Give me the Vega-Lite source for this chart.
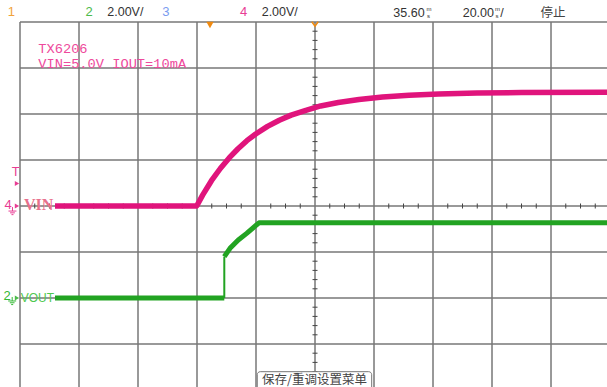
{
  "$schema": "https://vega.github.io/schema/vega-lite/v6.json",
  "width": 587,
  "height": 365,
  "autosize": {"type": "none"},
  "padding": {"left": 20, "top": 22, "right": 0, "bottom": 0},
  "background": "white",
  "config": {"view": {"stroke": null}, "axis": {"disable": true}, "legend": {"disable": true}},
  "resolve": {"scale": {"y": "independent"}},
  "datasets": {
    "vgrid": [{"t": -64.4}, {"t": -44.4}, {"t": -24.4}, {"t": -4.4}, {"t": 15.6}, {"t": 35.6}, {"t": 55.6}, {"t": 75.6}, {"t": 95.6}, {"t": 115.6}],
    "hgrid": [{"d": 1}, {"d": 2}, {"d": 3}, {"d": 4}, {"d": 5}, {"d": 6}, {"d": 7}, {"d": 8}],
    "hticks": [{"t": -59.4}, {"t": -54.4}, {"t": -49.4}, {"t": -39.4}, {"t": -34.4}, {"t": -29.4}, {"t": -19.4}, {"t": -14.4}, {"t": -9.4}, {"t": 0.6}, {"t": 5.6}, {"t": 10.6}, {"t": 20.6}, {"t": 25.6}, {"t": 30.6}, {"t": 40.6}, {"t": 45.6}, {"t": 50.6}, {"t": 60.6}, {"t": 65.6}, {"t": 70.6}, {"t": 80.6}, {"t": 85.6}, {"t": 90.6}, {"t": 100.6}, {"t": 105.6}, {"t": 110.6}, {"t": 120.6}, {"t": 125.6}, {"t": 130.6}],
    "vticks": [{"d": 0.2}, {"d": 0.4}, {"d": 0.6}, {"d": 0.8}, {"d": 1.2}, {"d": 1.4}, {"d": 1.6}, {"d": 1.8}, {"d": 2.2}, {"d": 2.4}, {"d": 2.6}, {"d": 2.8}, {"d": 3.2}, {"d": 3.4}, {"d": 3.6}, {"d": 3.8}, {"d": 4.2}, {"d": 4.4}, {"d": 4.6}, {"d": 4.8}, {"d": 5.2}, {"d": 5.4}, {"d": 5.6}, {"d": 5.8}, {"d": 6.2}, {"d": 6.4}, {"d": 6.6}, {"d": 6.8}, {"d": 7.2}, {"d": 7.4}, {"d": 7.6}, {"d": 7.8}],
    "vin": [
      {"t": -52.54, "v": 0}, {"t": -4.5, "v": 0}, {"t": -2.5, "v": 0.47}, {"t": 0.5, "v": 1.1},
      {"t": 3.5, "v": 1.63}, {"t": 6.5, "v": 2.09}, {"t": 9.5, "v": 2.49}, {"t": 12.5, "v": 2.84},
      {"t": 15.5, "v": 3.13}, {"t": 19.5, "v": 3.46}, {"t": 23.5, "v": 3.73}, {"t": 27.5, "v": 3.95},
      {"t": 32.5, "v": 4.16}, {"t": 37.5, "v": 4.35}, {"t": 43.5, "v": 4.5}, {"t": 50.5, "v": 4.63},
      {"t": 58.5, "v": 4.74}, {"t": 67.5, "v": 4.82}, {"t": 77.5, "v": 4.87}, {"t": 90.5, "v": 4.91},
      {"t": 105.5, "v": 4.93}, {"t": 134.58, "v": 4.95}
    ],
    "vout": [
      {"part": "low", "t": -52.54, "v": 0}, {"part": "low", "t": 4.85, "v": 0},
      {"part": "edge", "t": 4.85, "v": 0}, {"part": "edge", "t": 4.85, "v": 1.8},
      {"part": "high", "t": 4.85, "v": 1.8}, {"part": "high", "t": 6.78, "v": 2.16},
      {"part": "high", "t": 9.59, "v": 2.52}, {"part": "high", "t": 12.44, "v": 2.81},
      {"part": "high", "t": 16.61, "v": 3.27}, {"part": "high", "t": 134.58, "v": 3.27}
    ],
    "chans": [
      {"s": "1", "t": -67.36, "d": 8.22, "ch": "1"},
      {"s": "2", "t": -40.95, "d": 8.22, "ch": "2"},
      {"s": "3", "t": -14.98, "d": 8.22, "ch": "3"},
      {"s": "4", "t": 11.42, "d": 8.22, "ch": "4"},
      {"s": "T", "t": -65.83, "d": 4.74, "ch": "4s"},
      {"s": "4", "t": -68.47, "d": 4.03, "ch": "4s"},
      {"s": "2", "t": -68.75, "d": 2.04, "ch": "2s"}
    ],
    "arrows": [
      {"t": -65.42, "d": 4.49, "ch": "4"},
      {"t": -65.42, "d": 4.0, "ch": "4"},
      {"t": -65.42, "d": 2.0, "ch": "2"}
    ],
    "grounds": [
      {"t": -66.95, "d": 3.89, "ch": "4"},
      {"t": -67.05, "d": 1.935, "ch": "2"}
    ],
    "status": [
      {"s": "2.00V/", "t": -34.81, "d": 8.22},
      {"s": "2.00V/", "t": 17.53, "d": 8.22},
      {"s": "35.60", "t": 62.14, "d": 8.2},
      {"s": "20.00", "t": 85.66, "d": 8.2},
      {"s": "/", "t": 98.4, "d": 8.2}
    ],
    "units": [
      {"s": "m", "t": 73.4, "d": 8.29},
      {"s": "s", "t": 73.6, "d": 8.14},
      {"s": "m", "t": 96.6, "d": 8.29},
      {"s": "s", "t": 96.8, "d": 8.14}
    ],
    "notes": [
      {"s": "TX6206", "t": -58.2, "d": 7.42},
      {"s": "VIN=5.0V IOUT=10mA", "t": -58.2, "d": 7.091}
    ],
    "cjk": [
      {"s": "停止", "t": 116.27, "d": 8.2, "a": "left"},
      {"s": "保存/重调设置菜单", "t": 35.42, "d": 0.215, "a": "center"}
    ],
    "menubox": [{"t1": 16.03, "t2": 54.81, "d1": 0.398, "d2": 0.0}],
    "markers": [
      {"t": 0, "d": 7.935, "kind": "trigger"},
      {"t": 35.6, "d": 7.95, "kind": "center"}
    ],
    "siglabels": [
      {"s": "VIN", "t": -63.05, "d": 4.02, "sig": "VIN"},
      {"s": "VOUT", "t": -64.17, "d": 2.0, "sig": "VOUT"}
    ]
  },
  "layer": [
    {
      "data": {"name": "vgrid"},
      "mark": {"type": "rule", "color": "#777777", "strokeWidth": 1.5},
      "encoding": {
        "x": {"field": "t", "type": "quantitative", "scale": {"domain": [-64.4, 134.58], "nice": false, "zero": false}}
      }
    },
    {
      "data": {"name": "hgrid"},
      "mark": {"type": "rule", "color": "#777777", "strokeWidth": 1.5},
      "encoding": {
        "y": {"field": "d", "type": "quantitative", "scale": {"domain": [0.065, 8], "nice": false, "zero": false}}
      }
    },
    {
      "data": {"name": "hticks"},
      "mark": {"type": "tick", "orient": "vertical", "color": "#444444", "size": 5, "thickness": 1, "opacity": 1},
      "encoding": {
        "x": {"field": "t", "type": "quantitative", "scale": {"domain": [-64.4, 134.58], "nice": false, "zero": false}},
        "y": {"datum": 4, "type": "quantitative", "scale": {"domain": [0.065, 8], "nice": false, "zero": false}}
      }
    },
    {
      "data": {"name": "vticks"},
      "mark": {"type": "tick", "orient": "horizontal", "color": "#444444", "size": 5, "thickness": 1, "opacity": 1},
      "encoding": {
        "x": {"datum": 35.6, "type": "quantitative", "scale": {"domain": [-64.4, 134.58], "nice": false, "zero": false}},
        "y": {"field": "d", "type": "quantitative", "scale": {"domain": [0.065, 8], "nice": false, "zero": false}}
      }
    },
    {
      "data": {"name": "menubox"},
      "mark": {"type": "rect", "fill": "white", "stroke": "#777777", "strokeWidth": 1, "cornerRadius": 3},
      "encoding": {
        "x": {"field": "t1", "type": "quantitative", "scale": {"domain": [-64.4, 134.58], "nice": false, "zero": false}},
        "x2": {"field": "t2"},
        "y": {"field": "d1", "type": "quantitative", "scale": {"domain": [0.065, 8], "nice": false, "zero": false}},
        "y2": {"field": "d2"}
      }
    },
    {
      "data": {"name": "markers"},
      "transform": [{"filter": "datum.kind === 'trigger'"}],
      "mark": {"type": "point", "shape": "triangle-down", "filled": true, "color": "#f08a10", "size": 55, "opacity": 1},
      "encoding": {
        "x": {"field": "t", "type": "quantitative", "scale": {"domain": [-64.4, 134.58], "nice": false, "zero": false}},
        "y": {"field": "d", "type": "quantitative", "scale": {"domain": [0.065, 8], "nice": false, "zero": false}}
      }
    },
    {
      "data": {"name": "markers"},
      "transform": [{"filter": "datum.kind === 'center'"}],
      "mark": {"type": "point", "shape": "M -1 -0.8 L 0 0.6 L 1 -0.8", "filled": false, "color": "#f08a10", "strokeWidth": 1.5, "size": 40, "opacity": 1},
      "encoding": {
        "x": {"field": "t", "type": "quantitative", "scale": {"domain": [-64.4, 134.58], "nice": false, "zero": false}},
        "y": {"field": "d", "type": "quantitative", "scale": {"domain": [0.065, 8], "nice": false, "zero": false}}
      }
    },
    {
      "data": {"name": "vout"},
      "transform": [{"filter": "datum.part !== 'edge'"}],
      "mark": {"type": "line", "color": "#22a322", "strokeWidth": 5, "strokeCap": "butt", "strokeJoin": "round"},
      "encoding": {
        "x": {"field": "t", "type": "quantitative", "scale": {"domain": [-64.4, 134.58], "nice": false, "zero": false}},
        "y": {"field": "v", "type": "quantitative", "scale": {"domain": [-3.87, 12], "nice": false, "zero": false}},
        "detail": {"field": "part"}
      }
    },
    {
      "data": {"name": "vout"},
      "transform": [{"filter": "datum.part === 'edge'"}],
      "mark": {"type": "line", "color": "#22a322", "strokeWidth": 2, "strokeCap": "butt"},
      "encoding": {
        "x": {"field": "t", "type": "quantitative", "scale": {"domain": [-64.4, 134.58], "nice": false, "zero": false}},
        "y": {"field": "v", "type": "quantitative", "scale": {"domain": [-3.87, 12], "nice": false, "zero": false}}
      }
    },
    {
      "data": {"name": "vin"},
      "mark": {"type": "line", "color": "#e0147c", "strokeWidth": 5.5, "strokeCap": "butt", "strokeJoin": "round"},
      "encoding": {
        "x": {"field": "t", "type": "quantitative", "scale": {"domain": [-64.4, 134.58], "nice": false, "zero": false}},
        "y": {"field": "v", "type": "quantitative", "scale": {"domain": [-7.87, 8], "nice": false, "zero": false}}
      }
    },
    {
      "data": {"name": "chans"},
      "mark": {"type": "text", "align": "center", "baseline": "middle", "font": "Liberation Sans"},
      "encoding": {
        "x": {"field": "t", "type": "quantitative", "scale": {"domain": [-64.4, 134.58], "nice": false, "zero": false}},
        "y": {"field": "d", "type": "quantitative", "scale": {"domain": [0.065, 8], "nice": false, "zero": false}},
        "text": {"field": "s"},
        "color": {"field": "ch", "type": "nominal", "scale": {"domain": ["1", "2", "3", "4", "4s", "2s"], "range": ["#f0a23a", "#4cbb4c", "#7a9cf0", "#e83c94", "#e83c94", "#33b833"]}},
        "size": {"field": "ch", "type": "nominal", "scale": {"domain": ["1", "2", "3", "4", "4s", "2s"], "range": [13, 13, 13, 13, 11.5, 11.5]}}
      }
    },
    {
      "data": {"name": "arrows"},
      "mark": {"type": "point", "shape": "triangle-right", "filled": true, "size": 25, "opacity": 1},
      "encoding": {
        "x": {"field": "t", "type": "quantitative", "scale": {"domain": [-64.4, 134.58], "nice": false, "zero": false}},
        "y": {"field": "d", "type": "quantitative", "scale": {"domain": [0.065, 8], "nice": false, "zero": false}},
        "color": {"field": "ch", "type": "nominal", "scale": {"domain": ["4", "2"], "range": ["#e83c94", "#33b833"]}}
      }
    },
    {
      "data": {"name": "grounds"},
      "mark": {"type": "point", "shape": "M 0 -1 L 0 0 M -1 0 L 1 0 M -0.6 0.45 L 0.6 0.45 M -0.25 0.9 L 0.25 0.9", "filled": false, "size": 64, "strokeWidth": 1, "opacity": 1},
      "encoding": {
        "x": {"field": "t", "type": "quantitative", "scale": {"domain": [-64.4, 134.58], "nice": false, "zero": false}},
        "y": {"field": "d", "type": "quantitative", "scale": {"domain": [0.065, 8], "nice": false, "zero": false}},
        "stroke": {"field": "ch", "type": "nominal", "scale": {"domain": ["4", "2"], "range": ["#e83c94", "#33b833"]}}
      }
    },
    {
      "data": {"name": "status"},
      "mark": {"type": "text", "align": "left", "baseline": "middle", "font": "Liberation Sans", "fontSize": 12.5, "color": "#333333"},
      "encoding": {
        "x": {"field": "t", "type": "quantitative", "scale": {"domain": [-64.4, 134.58], "nice": false, "zero": false}},
        "y": {"field": "d", "type": "quantitative", "scale": {"domain": [0.065, 8], "nice": false, "zero": false}},
        "text": {"field": "s"}
      }
    },
    {
      "data": {"name": "units"},
      "mark": {"type": "text", "align": "left", "baseline": "middle", "font": "Liberation Sans", "fontSize": 6, "color": "#333333"},
      "encoding": {
        "x": {"field": "t", "type": "quantitative", "scale": {"domain": [-64.4, 134.58], "nice": false, "zero": false}},
        "y": {"field": "d", "type": "quantitative", "scale": {"domain": [0.065, 8], "nice": false, "zero": false}},
        "text": {"field": "s"}
      }
    },
    {
      "data": {"name": "notes"},
      "mark": {"type": "text", "align": "left", "baseline": "middle", "font": "Liberation Mono", "fontSize": 13.7, "color": "#ee4a9c"},
      "encoding": {
        "x": {"field": "t", "type": "quantitative", "scale": {"domain": [-64.4, 134.58], "nice": false, "zero": false}},
        "y": {"field": "d", "type": "quantitative", "scale": {"domain": [0.065, 8], "nice": false, "zero": false}},
        "text": {"field": "s"}
      }
    },
    {
      "data": {"name": "cjk"},
      "mark": {"type": "text", "baseline": "middle", "font": "Noto Sans CJK SC", "fontSize": 12.5, "color": "#444444"},
      "encoding": {
        "x": {"field": "t", "type": "quantitative", "scale": {"domain": [-64.4, 134.58], "nice": false, "zero": false}},
        "y": {"field": "d", "type": "quantitative", "scale": {"domain": [0.065, 8], "nice": false, "zero": false}},
        "text": {"field": "s"},
        "align": {"field": "a", "type": "nominal", "scale": null}
      }
    },
    {
      "data": {"name": "siglabels"},
      "transform": [{"filter": "datum.sig === 'VIN'"}],
      "mark": {"type": "text", "align": "left", "baseline": "middle", "font": "Liberation Serif", "fontWeight": "bold", "fontSize": 16, "color": "#e8708c"},
      "encoding": {
        "x": {"field": "t", "type": "quantitative", "scale": {"domain": [-64.4, 134.58], "nice": false, "zero": false}},
        "y": {"field": "d", "type": "quantitative", "scale": {"domain": [0.065, 8], "nice": false, "zero": false}},
        "text": {"field": "s"}
      }
    },
    {
      "data": {"name": "siglabels"},
      "transform": [{"filter": "datum.sig === 'VOUT'"}],
      "mark": {"type": "text", "align": "left", "baseline": "middle", "font": "Liberation Sans", "fontSize": 12, "color": "#4fc84f"},
      "encoding": {
        "x": {"field": "t", "type": "quantitative", "scale": {"domain": [-64.4, 134.58], "nice": false, "zero": false}},
        "y": {"field": "d", "type": "quantitative", "scale": {"domain": [0.065, 8], "nice": false, "zero": false}},
        "text": {"field": "s"}
      }
    }
  ]
}
